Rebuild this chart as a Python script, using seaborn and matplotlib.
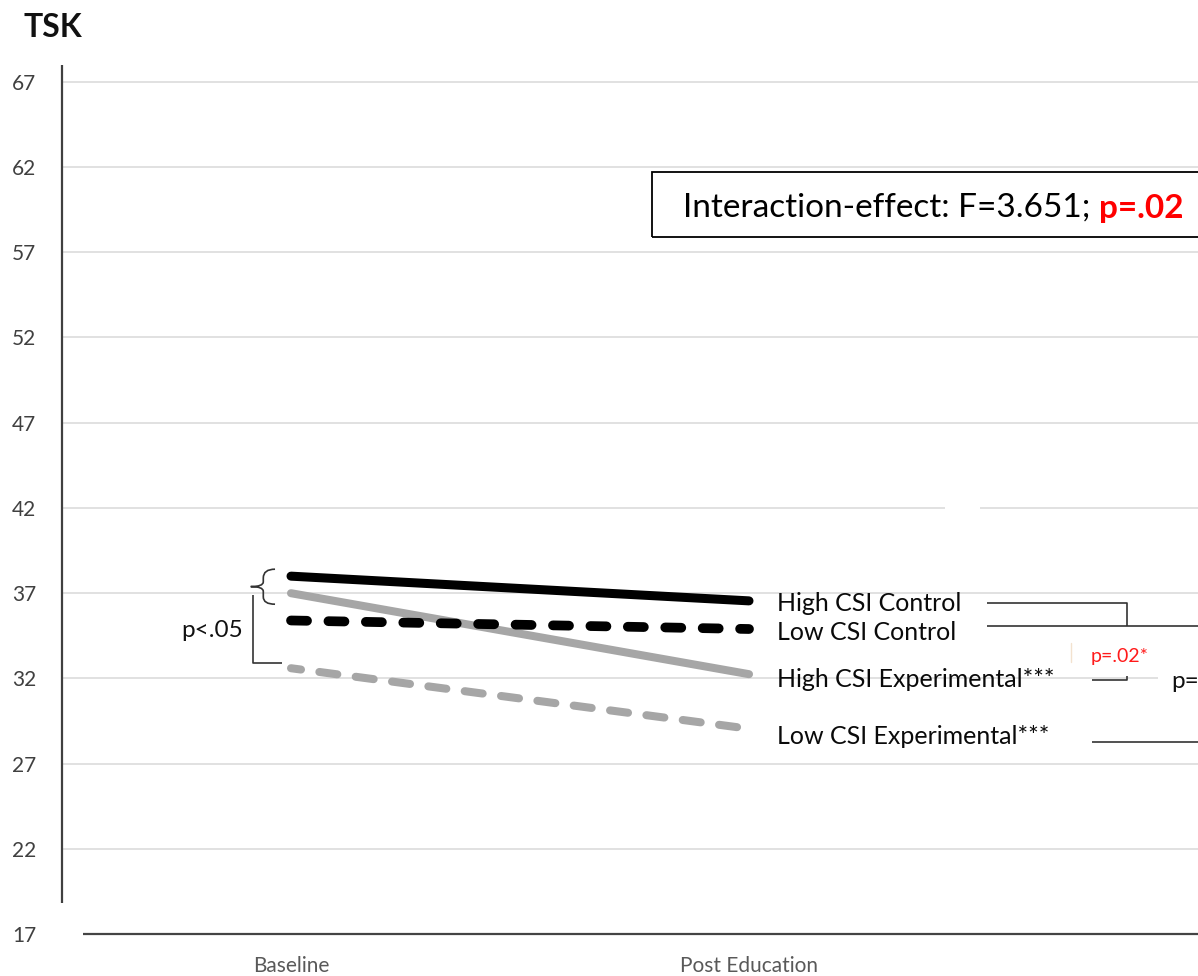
import numpy as np
import pandas as pd
import matplotlib
matplotlib.use("Agg")
import matplotlib.pyplot as plt
import seaborn as sns
from matplotlib.path import Path
from matplotlib.patches import PathPatch, Rectangle

# ---------------- data ----------------
timepoints = ["Baseline", "Post Education"]
groups = ["High CSI Control", "Low CSI Control",
          "High CSI Experimental", "Low CSI Experimental"]
group_labels = ["High CSI Control", "Low CSI Control",
                "High CSI Experimental***", "Low CSI Experimental***"]
high_csi_control = [38.0, 36.55]
low_csi_control = [35.4, 34.9]
high_csi_experimental = [37.0, 32.25]
low_csi_experimental = [32.6, 29.05]
y_ticks = [17, 22, 27, 32, 37, 42, 47, 52, 57, 62, 67]
y_title = "TSK"
interaction_text = "Interaction-effect: F=3.651; "
interaction_p = "p=.02"
baseline_sig = "p<.05"
post_sig_red = "p=.02*"
post_sig_black = "p="

series = [high_csi_control, low_csi_control,
          high_csi_experimental, low_csi_experimental]
df = pd.DataFrame({
    "t": np.tile(np.arange(len(timepoints)), len(groups)),
    "value": np.concatenate(series),
    "group": np.repeat(groups, len(timepoints)),
})

# ---------------- style ----------------
sns.set_style("white")
plt.rcParams['font.family'] = ['Lato', 'DejaVu Sans']

W, H = 1198, 976
fig = plt.figure(figsize=(W / 100, H / 100), dpi=100)
ax = fig.add_axes([62 / W, 1 - 934.2 / H, 1 - 62 / W, (934.2 - 65) / H])
XMIN, XMAX = -0.5, 1.9803
ax.set_xlim(XMIN, XMAX)
ax.set_ylim(17, 67.98)

for s in ax.spines.values():
    s.set_visible(False)

# gridlines (no gridline at 17, the axis line sits there)
ax.hlines(y_ticks[1:], XMIN, XMAX, colors="#d9d9d9", lw=1.1, zorder=1)
# small gaps in the gridlines seen in the reference
ax.add_patch(Rectangle((1.428, 41.7), 0.076, 0.6, color="white", zorder=1.5, lw=0))
ax.add_patch(Rectangle((1.893, 31.7), 0.2, 0.6, color="white", zorder=1.5, lw=0))

# axis lines
ax.plot([XMIN, XMIN], [18.85, 67.98], color="#404040", lw=1.6,
        solid_capstyle="butt", zorder=3, clip_on=False)
ax.plot([-0.4535, XMAX], [17, 17], color="#444444", lw=1.6,
        solid_capstyle="butt", zorder=3, clip_on=False)

# ---------------- lines ----------------
styles = {
    "High CSI Control": dict(color="#000000", lw=6.5, ls="-"),
    "Low CSI Control": dict(color="#000000", lw=7.0, ls=(0, (1.65, 2.2))),
    "High CSI Experimental": dict(color="#a6a6a6", lw=5.8, ls="-"),
    "Low CSI Experimental": dict(color="#a6a6a6", lw=5.8, ls=(1.0, (2.25, 2.3))),
}
zorders = {"High CSI Control": 6, "Low CSI Control": 6,
           "High CSI Experimental": 5, "Low CSI Experimental": 5}
for g in groups:
    st = styles[g]
    sns.lineplot(data=df[df["group"] == g], x="t", y="value", ax=ax,
                 color=st["color"], linewidth=st["lw"], linestyle=st["ls"],
                 solid_capstyle="round", dash_capstyle="round",
                 errorbar=None, legend=False, zorder=zorders[g])

ax.set_xlabel("")
ax.set_ylabel("")
ax.set_xticks(range(len(timepoints)))
ax.set_xticklabels(timepoints)
ax.set_yticks(y_ticks)
ax.set_yticklabels([str(v) for v in y_ticks])
ax.tick_params(axis="y", length=0, pad=18.5, labelsize=15, labelcolor="#404040")
ax.tick_params(axis="x", length=0, pad=16, labelsize=15, labelcolor="#595959")

# ---------------- labels at line ends ----------------
label_x = 1.0605
label_y = [35.98, 34.26, 31.52, 28.17]
for lab, yy in zip(group_labels, label_y):
    ax.text(label_x, yy, lab, fontsize=18, color="#0a0a0a",
            ha="left", va="baseline", zorder=7)

# right-hand brackets
br = dict(color="#333333", lw=1.2, solid_capstyle="butt", zorder=4, clip_on=False)
ax.plot([1.519, 1.825, 1.825], [36.45, 36.45, 35.10], **br)
ax.plot([1.519, XMAX + 0.05], [35.10, 35.10], **br)
ax.plot([1.748, 1.825, 1.825], [31.915, 31.915, 32.15], **br)
ax.plot([1.748, XMAX + 0.05], [28.26, 28.26], **br)
ax.plot([1.702, 1.702], [34.09, 32.97], color="#f3e2cf", lw=1.0, zorder=3)
ax.text(1.746, 32.99, post_sig_red, fontsize=14, color="#ff1a1a",
        ha="left", va="baseline", zorder=7)
ax.text(1.922, 31.45, post_sig_black, fontsize=17.5, color="#111111",
        ha="left", va="baseline", zorder=7, clip_on=False)

# left brace and p<.05 bracket
verts = [(-0.0349, 38.408), (-0.0605, 38.408), (-0.0605, 37.897),
         (-0.0605, 37.663),
         (-0.0605, 37.387), (-0.088, 37.387),
         (-0.0605, 37.387), (-0.0605, 37.111),
         (-0.0605, 36.783),
         (-0.0605, 36.355), (-0.0349, 36.355)]
codes = [Path.MOVETO, Path.CURVE3, Path.CURVE3,
         Path.LINETO,
         Path.CURVE3, Path.CURVE3,
         Path.CURVE3, Path.CURVE3,
         Path.LINETO,
         Path.CURVE3, Path.CURVE3]
ax.add_patch(PathPatch(Path(verts, codes), fill=False, edgecolor="#333333",
                       lw=1.2, zorder=4))
ax.plot([-0.0823, -0.0823, -0.0203], [36.90, 32.93, 32.93], **br)
ax.text(-0.1055, 34.455, baseline_sig, fontsize=17.5, color="#111111",
        ha="right", va="baseline", zorder=7)

# interaction box
ax.add_patch(Rectangle((0.788, 57.88), 1.5, 61.73 - 57.88, fill=False,
                       edgecolor="#000000", lw=1.3, zorder=4))
t1 = ax.text(0.856, 59.09, interaction_text, fontsize=24, color="#000000",
             ha="left", va="baseline", zorder=7)
ax.annotate(interaction_p, xy=(1, 0), xycoords=t1, ha="left", va="bottom",
            fontsize=24, fontweight="bold", color="#ff0000", zorder=7,
            annotation_clip=False)

# y title
fig.text(23 / W, 1 - 37 / H, y_title, fontsize=23, fontweight="bold",
         color="#111111", ha="left", va="baseline")

fig.savefig("out.png", dpi=100, facecolor="white")
